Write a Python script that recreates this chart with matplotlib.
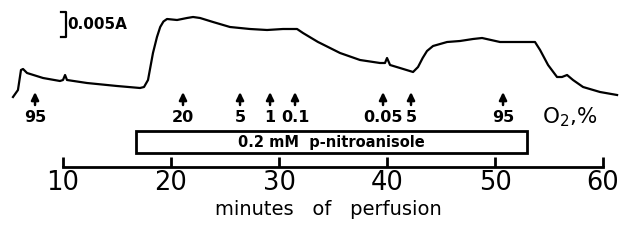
import matplotlib
matplotlib.use("Agg")
import matplotlib.pyplot as plt
from matplotlib.patches import Rectangle

# ---- data ----
time_min = [5.37, 5.83, 6.11, 6.30, 6.67, 8.15, 9.72, 10.0, 10.19, 10.37, 12.22, 15.0,
            17.13, 17.50, 17.87, 18.33, 18.70, 19.0, 19.30, 19.63, 20.56, 21.48, 22.04, 22.69,
            23.89, 25.46, 27.31, 28.89, 30.37, 31.67, 32.22, 33.61, 33.80, 35.65, 37.50,
            39.35, 39.81, 40.0, 40.28, 41.20, 42.41, 42.87, 43.30, 43.70, 44.26, 45.56, 46.76,
            47.96, 48.80, 50.46, 52.04, 53.70, 54.17, 54.91, 55.74, 56.20, 56.67, 57.22,
            58.15, 59.72, 61.30]
absorbance = [-0.0018, -0.0004, 0.0036, 0.0038, 0.0030, 0.0020, 0.0014, 0.0016, 0.0026,
              0.0016, 0.0010, 0.0004, 0.0000, 0.0002, 0.0016, 0.0070, 0.0102, 0.0122, 0.0133,
              0.0138, 0.0136, 0.0140, 0.0142, 0.0140, 0.0132, 0.0122, 0.0118, 0.0116,
              0.0118, 0.0118, 0.0110, 0.0092, 0.0090, 0.0070, 0.0056, 0.0050, 0.0050,
              0.0060, 0.0046, 0.0040, 0.0032, 0.0042, 0.0060, 0.0074, 0.0084, 0.0092, 0.0094,
              0.0098, 0.0100, 0.0092, 0.0092, 0.0092, 0.0076, 0.0046, 0.0022, 0.0022,
              0.0026, 0.0016, 0.0002, -0.0008, -0.0014]

o2_times = [7.41, 21.11, 26.39, 29.17, 31.48, 39.63, 42.22, 50.74]
o2_labels = ["95", "20", "5", "1", "0.1", "0.05", "5", "95"]

drug_start, drug_end = 16.8, 52.95
drug_label = "0.2 mM  p-nitroanisole"

x_ticks = [10, 20, 30, 40, 50, 60]
x_label = "minutes   of   perfusion"
scale_bar = 0.005  # absorbance units

# ---- figure ----
W, H = 620, 240
fig = plt.figure(figsize=(W / 100, H / 100), dpi=100)
ax = fig.add_axes([0, 0, 1, 1])
ax.set_xlim(4.167, 61.57)
ax.set_ylim(-0.0304, 0.0176)


def fy(px):
    return 1 - px / H


ax.plot(time_min, absorbance, color="black", lw=1.6, solid_joinstyle="round")

# scale bar
sb_top = 0.0152
ax.plot([9.85, 10.28, 10.28, 9.85], [sb_top, sb_top, sb_top - scale_bar, sb_top - scale_bar],
        color="black", lw=1.6)
ax.text(10.35, sb_top - scale_bar / 2, "0.005A", fontsize=11, va="center", ha="left",
        fontweight="bold")

# O2 arrows
tr = ax.get_xaxis_transform()
for t, lab in zip(o2_times, o2_labels):
    ax.annotate("", xy=(t, fy(92)), xytext=(t, fy(105)), xycoords=tr, textcoords=tr,
                arrowprops=dict(arrowstyle="-|>,head_length=0.45,head_width=0.22",
                                lw=1.8, color="black", shrinkA=0, shrinkB=0))
    ax.text(t, fy(118), lab, transform=tr, ha="center", va="center", fontsize=11.5,
            fontweight="bold")
ax.text(56.9, fy(117), "O$_2$,%", transform=tr, ha="center", va="center", fontsize=15.5)

# drug box
ax.add_patch(Rectangle((drug_start, fy(153)), drug_end - drug_start, fy(131) - fy(153),
                       transform=tr, fill=False, lw=2, edgecolor="black"))
ax.text((drug_start + drug_end) / 2, fy(142), drug_label, transform=tr, ha="center",
        va="center", fontsize=10.5, fontweight="bold")

# time axis
for s in ["top", "left", "right"]:
    ax.spines[s].set_visible(False)
ax.spines["bottom"].set_position(("axes", fy(167)))
ax.spines["bottom"].set_bounds(x_ticks[0], x_ticks[-1])
ax.spines["bottom"].set_linewidth(2)
ax.set_xticks(x_ticks)
ax.set_xticklabels([str(v) for v in x_ticks])
ax.tick_params(axis="x", direction="in", length=7, width=2, labelsize=18.5, pad=2)
ax.set_yticks([])
ax.set_xlabel(x_label, fontsize=14)
ax.xaxis.set_label_coords(328 / W, fy(200))

fig.savefig("out.png", dpi=100)
